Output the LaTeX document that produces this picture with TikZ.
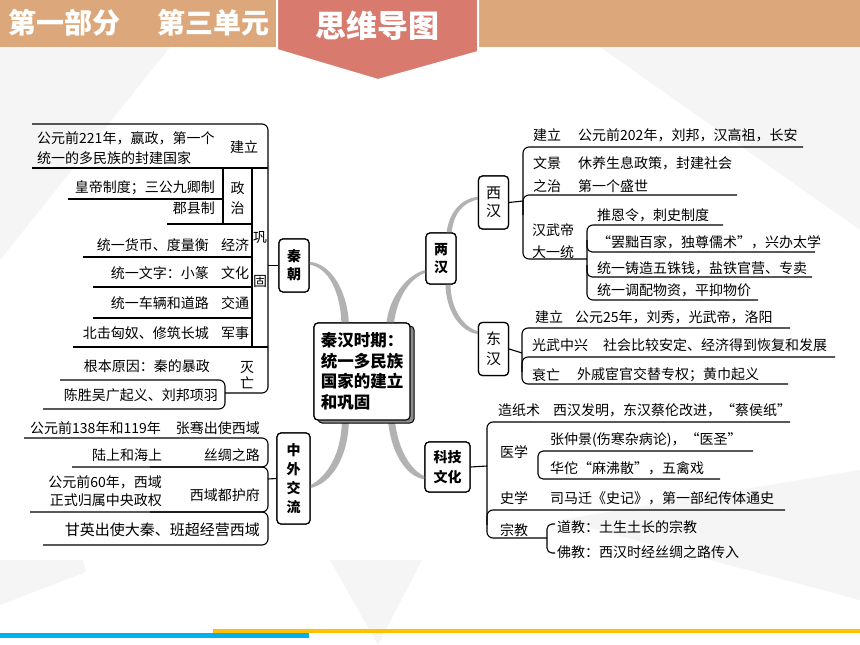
\documentclass[tikz,border=0pt]{standalone}
\usepackage{fontspec}
\setmainfont{Noto Sans CJK SC}
\usetikzlibrary{calc}
\definecolor{hdr}{RGB}{220,168,123}
\definecolor{tabc}{RGB}{216,122,110}
\definecolor{conn}{RGB}{178,178,178}
\definecolor{bgg}{RGB}{245,245,245}
\definecolor{barYel}{RGB}{255,192,0}
\definecolor{barBlu}{RGB}{0,176,240}
\newcommand\ftx{\fontsize{14}{17}\selectfont}
\begin{document}
\begin{tikzpicture}[x=1pt,y=-1pt,
  ln/.style={line width=1.1pt},
  t/.style={inner sep=0pt, font=\ftx, anchor=west},
  tr/.style={t, anchor=east},
  tc/.style={t, anchor=center, align=center},
  bx/.style={draw, line width=1.2pt, rounded corners=4pt, fill=white, inner sep=0pt, align=center},
  cf/.style={fill=conn}]
\useasboundingbox (0,0) rectangle (860,645);
\fill[white] (0,0) rectangle (860,645);
% background facets
\fill[bgg] (0,47) -- (170,47) -- (0,260) -- cycle;
\fill[bgg] (600,47) -- (860,47) -- (860,230) -- cycle;
\fill[bgg] (0,560) -- (83,560) -- (86,572) -- (0,605) -- cycle;
\fill[bgg] (330,560) -- (422,560) -- (378,645) -- cycle;
\fill[bgg] (560,520) -- (860,470) -- (860,600) -- cycle;
% header
\fill[hdr] (0,0) rectangle (860,47);
\node[inner sep=0pt, anchor=west, text=white, font=\fontsize{28}{30}\selectfont\bfseries] (h1) at (8,23) {第一部分};
\node[inner sep=0pt, anchor=west, text=white, font=\fontsize{28}{30}\selectfont\bfseries] (h2) at (157,23) {第三单元};
\filldraw[fill=tabc, draw=white, line width=2pt] (277,-3) -- (277,50) -- (378,80) -- (478,52) -- (478,-3) -- cycle;
\node[inner sep=0pt, text=white, font=\fontsize{31}{33}\selectfont\bfseries] (h3) at (377,26) {思维导图};
% bottom bars
\fill[barYel] (213,629) rectangle (860,633);
\fill[barBlu] (0,633) rectangle (309,638);

% main nodes (placed first for anchors)
\node[bx, minimum width=96pt, minimum height=97pt, align=left, font=\fontsize{16.5}{20.5}\selectfont\bfseries] (c) at (362,371.5) {秦汉时期：\\统一多民族\\国家的建立\\和巩固};
\node[bx, minimum width=30pt, minimum height=53pt, font=\fontsize{14}{18}\selectfont\bfseries] (qin) at (294,265.5) {秦\\朝};
\node[bx, minimum width=30pt, minimum height=51pt, font=\fontsize{14}{18}\selectfont\bfseries] (lh) at (441,258.5) {两\\汉};
\node[bx, minimum width=30pt, minimum height=53pt, font=\fontsize{15}{18}\selectfont] (xh) at (493.5,202.5) {西\\汉};
\node[bx, minimum width=30pt, minimum height=53pt, font=\fontsize{15}{20}\selectfont] (dh) at (493.5,349) {东\\汉};
\node[bx, minimum width=45pt, minimum height=50pt, font=\fontsize{14}{20}\selectfont\bfseries] (kj) at (447.5,467) {科技\\文化};
\node[bx, minimum width=33pt, minimum height=91pt, font=\fontsize{14}{19}\selectfont\bfseries] (zw) at (293.5,478.5) {中\\外\\交\\流};

% gray tapered connectors
\fill[cf] ($(c.north west)+(28,1)$) .. controls (340.5,292) and (328.5,267) .. ($(qin.east)+(-1,-1)$) -- ($(qin.east)+(-1,-3.8)$) .. controls (331.5,263) and (347.5,292) .. ($(c.north west)+(35.5,1)$) -- cycle;
\fill[cf] ($(c.north west)+(73,1)$) .. controls (389,298) and (406.5,274) .. ($(lh.west)+(1,11.2)$) -- ($(lh.west)+(1,14)$) .. controls (409.5,278) and (397,298) .. ($(c.north west)+(80.5,1)$) -- cycle;
\fill[cf] ($(lh.north)+(5.5,1)$) .. controls (448.5,213) and (461,198) .. ($(xh.west)+(1,-5.8)$) -- ($(xh.west)+(1,-3.2)$) .. controls (463.5,202) and (453.5,213) .. ($(lh.north)+(10.5,1)$) -- cycle;
\fill[cf] ($(lh.south)+(4.5,-1)$) .. controls (445.5,310) and (460,332.5) .. ($(dh.west)+(1,-14.8)$) -- ($(dh.west)+(1,-17.4)$) .. controls (463.5,327.5) and (450.5,309) .. ($(lh.south)+(9.5,-1)$) -- cycle;
\fill[cf] ($(c.south west)+(74.5,-1)$) .. controls (390.5,451) and (405.5,477.5) .. ($(kj.west)+(1,12.4)$) -- ($(kj.west)+(1,9.6)$) .. controls (410.5,470.5) and (397.5,449) .. ($(c.south west)+(81.5,-1)$) -- cycle;
\fill[cf] ($(c.south west)+(35.5,-1)$) .. controls (348.5,456) and (332.5,483.5) .. ($(zw.east)+(-1,9.8)$) -- ($(zw.east)+(-1,7.2)$) .. controls (327.5,476.5) and (341.5,454) .. ($(c.south west)+(28.5,-1)$) -- cycle;

% redraw nodes on top of connectors
\fill[black!45, rounded corners=4pt] (318,326) rectangle (414,423);
\draw[line width=1pt, rounded corners=4pt] (318,326) rectangle (414,423);
\node[bx, minimum width=96pt, minimum height=97pt, align=left, font=\fontsize{16.5}{20.5}\selectfont\bfseries] (c2) at (c) {秦汉时期：\\统一多民族\\国家的建立\\和巩固};
\node[bx, minimum width=30pt, minimum height=53pt, font=\fontsize{14}{18}\selectfont\bfseries] (qin2) at (qin) {秦\\朝};
\node[bx, minimum width=30pt, minimum height=51pt, font=\fontsize{14}{18}\selectfont\bfseries] (lh2) at (lh) {两\\汉};
\node[bx, minimum width=30pt, minimum height=53pt, font=\fontsize{15}{18}\selectfont] (xh2) at (xh) {西\\汉};
\node[bx, minimum width=30pt, minimum height=53pt, font=\fontsize{15}{20}\selectfont] (dh2) at (dh) {东\\汉};
\node[bx, minimum width=45pt, minimum height=50pt, font=\fontsize{14}{20}\selectfont\bfseries] (kj2) at (kj) {科技\\文化};
\node[bx, minimum width=33pt, minimum height=91pt, font=\fontsize{14}{19}\selectfont\bfseries] (zw2) at (zw) {中\\外\\交\\流};

% ===== Qin =====
\coordinate (qa) at (268,265.5);
\draw[ln] (qin2.west) -- (qa);
\draw[ln, rounded corners=6pt] (32,124) -- (268,124) -- (268,393) -- (225,393);
\draw[ln] (32,168) -- (268,168);
\draw[ln] (252,168) -- (252,347);
\draw[ln] (223,168) -- (223,224);
\draw[ln] (68,199) -- (223,199);
\draw[ln] (167,224) -- (252,224);
\draw[ln] (83,257) -- (252,257);
\draw[ln] (93,287) -- (252,287);
\draw[ln] (93,318) -- (252,318);
\draw[ln] (73,347) -- (268,347);
\draw[ln, rounded corners=6pt] (60,380) -- (225,380) -- (225,409) -- (43,409);
\node[t] (q1) at (37,138) {公元前221年，嬴政，第一个};
\node[t] (q2) at (37,158) {统一的多民族的封建国家};
\node[t] (q3) at (230,147) {建立};
\node[tr] (q4) at (215,188) {皇帝制度；三公九卿制};
\node[tr] (q5) at (215,208) {郡县制};
\node[tc] (q6) at (237.5,198) {政\\[3pt]治};
\node[tc] (q7) at (260,260) {巩\\[27pt]固};
\node[tr] (q8) at (209,245) {统一货币、度量衡};
\node[t] (q9) at (221,245) {经济};
\node[tr] (q10) at (209,273) {统一文字：小篆};
\node[t] (q11) at (221,273) {文化};
\node[tr] (q12) at (209,303) {统一车辆和道路};
\node[t] (q13) at (221,303) {交通};
\node[tr] (q14) at (209,333) {北击匈奴、修筑长城};
\node[t] (q15) at (221,333) {军事};
\node[tr] (q16) at (210,366) {根本原因：秦的暴政};
\node[tc] (q17) at (247,375) {灭\\[-1pt]亡};
\node[tr] (q18) at (218,395) {陈胜吴广起义、刘邦项羽};

% ===== 中外交流 =====
\coordinate (za) at (268,479);
\draw[ln] (zw2.west) -- (za);
\draw[ln, rounded corners=6pt] (24,438) -- (268,438) -- (268,467) -- (72,467);
\draw[ln, rounded corners=6pt] (150,467) -- (268,467) -- (268,512) -- (30,512);
\draw[ln, rounded corners=6pt] (150,512) -- (268,512) -- (268,545) -- (43,545);
\node[t] (z1) at (30,428) {公元前138年和119年};
\node[tr] (z2) at (260,428) {张骞出使西域};
\node[t] (z3) at (92,455) {陆上和海上};
\node[tr] (z4) at (260,455) {丝绸之路};
\node[tr, align=right] (z5) at (162,491) {公元前60年，西域\\[1pt]正式归属中央政权};
\node[tr] (z6) at (260,495) {西域都护府};
\node[tr, font=\fontsize{15}{17}\selectfont] (z7) at (260,530) {甘英出使大秦、班超经营西域};

% ===== 西汉 =====
\coordinate (xa) at (523,201);
\draw[ln] (xh2.east) -- (xa);
\draw[ln, rounded corners=6pt] (803,147) -- (523,147) -- (523,259) -- (587,259);
\draw[ln, rounded corners=6pt] (523,215) |- (737,195);
\draw[ln, rounded corners=6pt] (723,225) -- (587,225) -- (587,300) -- (758,300);
\draw[ln, rounded corners=5pt] (587,240) |- (815,252);
\draw[ln, rounded corners=5pt] (587,265) |- (812,277);
\node[t] (x1) at (533,135) {建立};
\node[t] (x2) at (578,135) {公元前202年，刘邦，汉高祖，长安};
\node[t] (x3) at (533,163) {文景};
\node[t] (x4) at (533,186) {之治};
\node[t] (x5) at (578,163) {休养生息政策，封建社会};
\node[t] (x6) at (578,186) {第一个盛世};
\node[t] (x7) at (532,230) {汉武帝};
\node[t] (x8) at (532,252) {大一统};
\node[t] (x9) at (597,215) {推恩令，刺史制度};
\node[t] (x10) at (597,242) {“罢黜百家，独尊儒术”，兴办太学};
\node[t] (x11) at (597,268) {统一铸造五铢钱，盐铁官营、专卖};
\node[t] (x12) at (597,290) {统一调配物资，平抑物价};

% ===== 东汉 =====
\coordinate (da) at (522,353);
\draw[ln] (dh2.east) -- (da);
\draw[ln, rounded corners=6pt] (790,328) -- (522,328) -- (522,384) -- (788,384);
\draw[ln, rounded corners=6pt] (522,372) |- (835,357);
\node[t] (d1) at (535,317) {建立};
\node[t] (d2) at (575,317) {公元25年，刘秀，光武帝，洛阳};
\node[t] (d3) at (532,345) {光武中兴};
\node[t] (d4) at (603,345) {社会比较安定、经济得到恢复和发展};
\node[t] (d5) at (532,375) {衰亡};
\node[t] (d6) at (577,375) {外戚宦官交替专权；黄巾起义};

% ===== 科技文化 =====
\coordinate (ka) at (487,466);
\draw[ln] (kj2.east) -- (ka);
\draw[ln, rounded corners=6pt] (790,422) -- (487,422) -- (487,538) -- (547,538);
\draw[ln, rounded corners=5pt] (753,451) -- (538,451) -- (538,479) -- (720,479);
\draw[ln, rounded corners=6pt] (487,525) |- (785,510);
\draw[ln, rounded corners=5pt] (555,524) -- (547,524) -- (547,553) -- (555,553);
\node[t] (k1) at (498,410) {造纸术};
\node[t] (k2) at (553,410) {西汉发明，东汉蔡伦改进，“蔡侯纸”};
\node[t] (k3) at (500,452) {医学};
\node[t] (k4) at (550,440) {张仲景(伤寒杂病论)，“医圣”};
\node[t] (k5) at (550,468) {华佗“麻沸散”，五禽戏};
\node[t] (k6) at (500,498) {史学};
\node[t] (k7) at (550,498) {司马迁《史记》，第一部纪传体通史};
\node[t] (k8) at (500,530) {宗教};
\node[t] (k9) at (557,527) {道教：土生土长的宗教};
\node[t] (k10) at (557,552) {佛教：西汉时经丝绸之路传入};
\end{tikzpicture}
\end{document}
